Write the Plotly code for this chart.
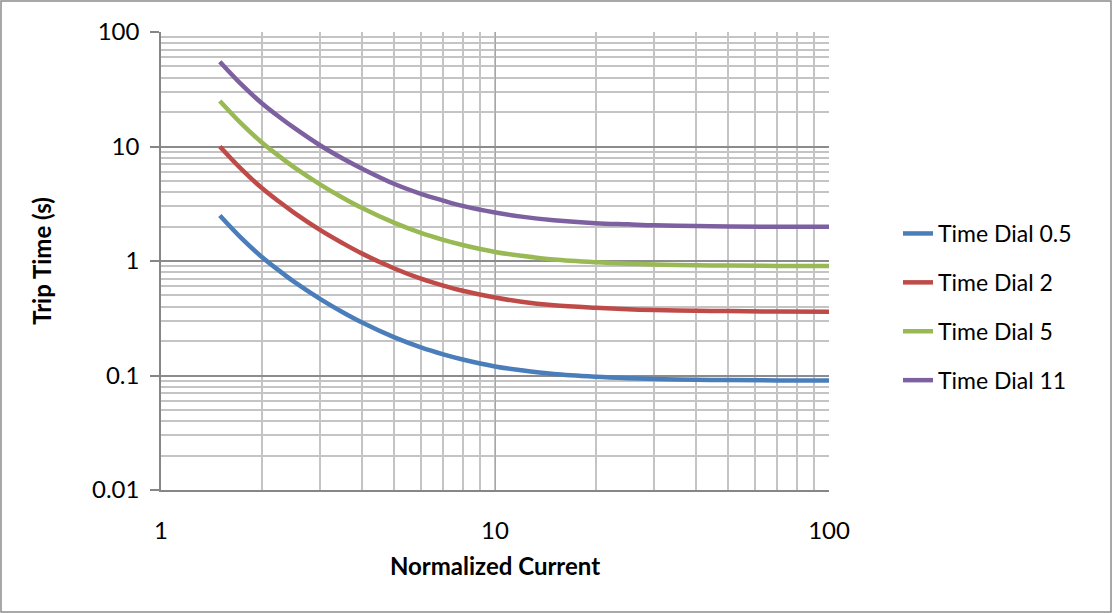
import plotly.graph_objects as go

current = [1.5, 1.75, 2, 2.25, 2.5, 3, 3.5, 4, 5, 6, 7, 8, 10, 12, 15, 20, 25, 30, 40, 50, 70, 100]

dial_05 = [2.5, 1.56, 1.09, 0.83, 0.66, 0.465, 0.357, 0.29, 0.215, 0.176, 0.153, 0.138, 0.120, 0.111, 0.103, 0.0975, 0.0948, 0.0933, 0.0919, 0.0912, 0.0906, 0.0903]
dial_2 = [10.0, 6.24, 4.36, 3.32, 2.65, 1.86, 1.43, 1.16, 0.86, 0.70, 0.61, 0.55, 0.48, 0.44, 0.41, 0.390, 0.379, 0.373, 0.368, 0.365, 0.362, 0.361]
dial_5 = [25.0, 15.6, 10.9, 8.3, 6.6, 4.65, 3.57, 2.9, 2.15, 1.76, 1.53, 1.38, 1.20, 1.11, 1.03, 0.975, 0.948, 0.933, 0.919, 0.912, 0.906, 0.903]
dial_11 = [55.0, 34.3, 24.0, 18.3, 14.6, 10.2, 7.85, 6.4, 4.7, 3.86, 3.37, 3.03, 2.65, 2.44, 2.27, 2.14, 2.09, 2.05, 2.02, 2.00, 1.99, 1.99]

series = [
    ("Time Dial 0.5", dial_05, "#4A7EBB"),
    ("Time Dial 2", dial_2, "#BE4B48"),
    ("Time Dial 5", dial_5, "#98B954"),
    ("Time Dial 11", dial_11, "#7D60A0"),
]

x_ticks = [1, 10, 100]
y_ticks = [0.01, 0.1, 1, 10, 100]
y_ticktext = ["0.01", "0.1", "1", "10", "100"]

FONT = "Lato"
FS = 24
fig = go.Figure()
for i, (name, vals, col) in enumerate(series):
    fig.add_trace(go.Scatter(x=current, y=vals, name=name, mode="lines",
                             line=dict(color=col, width=4.5, shape="spline"),
                             legendgroup=f"g{i}"))

L, R, T, B = 161, 284, 32, 123
W, H = 1113, 613
pw, ph = W - L - R, H - T - B

fig.update_layout(
    width=W, height=H,
    margin=dict(l=L, r=R, t=T, b=B),
    paper_bgcolor="white", plot_bgcolor="white",
    font=dict(family=FONT, size=FS, color="black"),
    showlegend=True,
    legend=dict(x=(898 - L) / pw, xanchor="left", y=(490 - 307) / ph, yanchor="middle",
                font=dict(family=FONT, size=FS - 1), tracegroupgap=16,
                bgcolor="rgba(0,0,0,0)"),
    xaxis=dict(type="log", range=[0, 2], tickvals=x_ticks, ticktext=["1", "10", "100"],
               showgrid=True, gridcolor="#a6a6a6", gridwidth=1,
               minor=dict(showgrid=True, dtick="D1", gridcolor="#c4c4c4", gridwidth=1.5, ticks=""),
               showline=True, linecolor="#868686", linewidth=1.5, ticks="",
               ticklabelstandoff=18,
               title=dict(text="<b>Normalized Current</b>", font=dict(family=FONT, size=FS), standoff=16),
               zeroline=False),
    yaxis=dict(type="log", range=[-2, 2], tickvals=y_ticks, ticktext=y_ticktext,
               showgrid=True, gridcolor="#8c8c8c", gridwidth=1.5,
               minor=dict(showgrid=True, dtick="D1", gridcolor="#c4c4c4", gridwidth=1.5, ticks=""),
               showline=True, linecolor="#868686", linewidth=1.5,
               ticks="outside", ticklen=9, tickcolor="#868686", tickwidth=1.5,
               ticklabelstandoff=6,
               title=dict(text="<b>Trip Time (s)</b>", font=dict(family=FONT, size=FS), standoff=34),
               zeroline=False),
)

fig.add_shape(type="rect", xref="paper", yref="paper",
              x0=(1 - L) / pw, x1=(W - 2 - L) / pw,
              y0=-(B - 1) / ph,
              y1=1 + (T - 1) / ph,
              line=dict(color="#8c8c8c", width=1.5), layer="below")

fig.write_html("out.html")
